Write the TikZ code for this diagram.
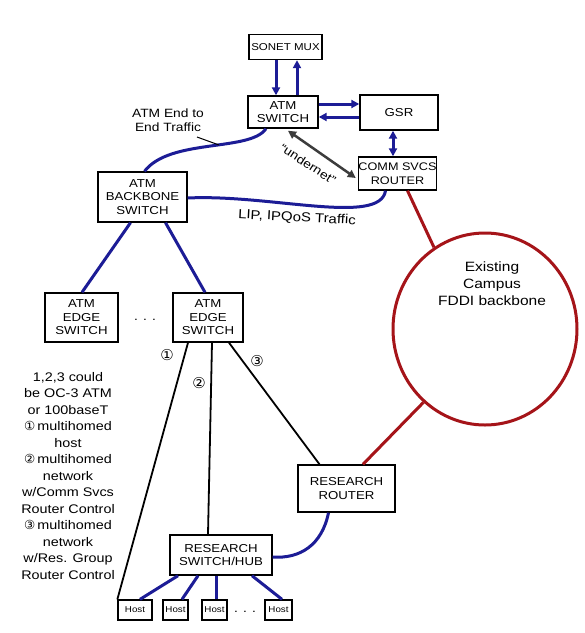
\documentclass[tikz,border=0pt]{standalone}
\usepackage{fontspec}
\setmainfont[FakeStretch=1.15]{Liberation Sans}
\newfontfamily\symf{DejaVu Sans}
\usetikzlibrary{arrows.meta,shapes.geometric}
\definecolor{netblue}{RGB}{28,28,150}
\definecolor{netred}{RGB}{165,20,25}
\definecolor{netgray}{RGB}{60,60,60}
\begin{document}
\begin{tikzpicture}[x=1pt,y=-1pt,
  box/.style={draw,line width=1.4pt,align=center,inner sep=0pt,font=\fontsize{11.5}{13.5}\selectfont},
  hostbox/.style={draw,line width=1.3pt,inner sep=0pt,minimum height=20pt,font=\fontsize{8.5}{9}\selectfont},
  blk/.style={line width=1.8pt},
  bl/.style={netblue,line width=3pt},
  rd/.style={netred,line width=3pt},
  tipend/.style={-{Triangle[length=8pt,width=8pt]}},
  tipboth/.style={{Triangle[length=8pt,width=8pt]}-{Triangle[length=8pt,width=8pt]}},
  lbl/.style={font=\fontsize{12}{13.5}\selectfont,align=center,inner sep=0pt},
  num/.style={font=\symf\fontsize{15}{15}\selectfont,inner sep=0pt}
]
\useasboundingbox (0,0) rectangle (585,633);
\fill[white] (0,0) rectangle (585,633);

% boxes
\node[box,minimum width=73pt,minimum height=25pt,font=\fontsize{10}{12}\selectfont] (sonet) at (285.5,47) {SONET MUX};
\node[box,minimum width=70pt,minimum height=32pt] (atmsw) at (283,112) {ATM\\SWITCH};
\node[box,minimum width=78pt,minimum height=35pt] (gsr) at (399,112.5) {GSR};
\node[box,minimum width=75pt,minimum height=33pt,font=\fontsize{11}{13.5}\selectfont] (comm) at (397.5,173.5) {COMM SVCS\\ROUTER};
\node[box,minimum width=89pt,minimum height=50pt] (backbone) at (142.5,197) {ATM\\BACKBONE\\SWITCH};
\node[box,minimum width=73pt,minimum height=49pt] (edgeA) at (81.5,317.5) {ATM\\EDGE\\SWITCH};
\node[box,minimum width=70pt,minimum height=49pt] (edgeB) at (208,317.5) {ATM\\EDGE\\SWITCH};
\node[lbl] (dotsA) at (145,320) {. . .};
\node[box,minimum width=97pt,minimum height=47pt] (rrouter) at (346.5,488.5) {RESEARCH\\ROUTER};
\node[box,minimum width=102pt,minimum height=40pt] (hub) at (221,555) {RESEARCH\\SWITCH/HUB};
\node[hostbox,minimum width=34pt] (h1) at (135,610) {Host};
\node[hostbox,minimum width=25pt] (h2) at (175.5,610) {Host};
\node[hostbox,minimum width=25pt] (h3) at (214.5,610) {Host};
\node[hostbox,minimum width=27pt] (h4) at (278.5,610) {Host};
\node[lbl] (dotsB) at (245,612) {. . .};

% FDDI ring
\node[draw=netred,line width=3pt,ellipse,minimum width=184pt,minimum height=192pt,inner sep=0pt] (ring) at (485,329) {};
\node[lbl,font=\fontsize{13.5}{17}\selectfont] (ringtxt) at (492,284) {Existing\\Campus\\FDDI backbone};

% SONET <-> ATM switch
\draw[bl,tipend] ([xshift=-9.5pt]sonet.south) -- ([xshift=-9.5pt]sonet.south |- atmsw.north);
\draw[bl,tipend] ([xshift=11.5pt]sonet.south |- atmsw.north) -- ([xshift=11.5pt]sonet.south);
% ATM switch <-> GSR
\draw[bl,tipend] ([yshift=8pt]atmsw.east) -- ([yshift=8pt]atmsw.east -| gsr.west);
\draw[bl,tipend] ([yshift=-4.5pt]gsr.west) -- ([yshift=-4.5pt]gsr.west -| atmsw.east);
% GSR <-> Comm
\draw[bl,tipboth] ([xshift=-6pt]gsr.south) -- ([xshift=-6pt]gsr.south |- comm.north);
% undernet
\draw[netgray,line width=2.5pt,tipboth] ([xshift=5pt,yshift=-2pt]atmsw.south) -- ([xshift=-2pt,yshift=-4.5pt]comm.west);
\node[lbl,rotate=-33,font=\fontsize{12}{13}\selectfont] (under) at (308,164) {``undernet''};

% ATM switch -> backbone
\draw[bl] ([xshift=-17pt]atmsw.south) .. controls (250,152) and (170,138) .. ([xshift=2pt]backbone.north);
\node[lbl] (e2e) at (168,120) {ATM End to\\End Traffic};
\coordinate (leadS) at (197,137);
\coordinate (leadE) at (219,145);
\draw[line width=1pt] (leadS) -- (leadE);

% backbone -> comm (LIP)
\draw[bl] ([yshift=-1pt]backbone.east) .. controls (270,194) and (380,226) .. ([xshift=-12pt]comm.south);
\node[lbl,rotate=-3,font=\fontsize{13}{14}\selectfont] (lip) at (297,218) {LIP, IPQoS Traffic};

% backbone -> edge switches
\draw[bl] ([xshift=-12pt]backbone.south) -- ([xshift=0.5pt]edgeA.north);
\draw[bl] ([xshift=23pt]backbone.south) -- ([xshift=-3pt]edgeB.north);

% comm -> ring ; router -> ring
\draw[rd] ([xshift=10pt]comm.south) -- (ring.122);
\draw[rd] ([xshift=16.5pt]rrouter.north) -- (ring.230);

% multihomed links
\draw[blk] ([xshift=-20pt]edgeB.south) -- (h1.north west);
\draw[blk] ([xshift=4pt]edgeB.south) -- ([xshift=-13pt]hub.north);
\draw[blk] ([xshift=21pt]edgeB.south) -- ([xshift=-27pt]rrouter.north);
\node[num] (n1) at (167,355) {①};
\node[num] (n2) at (199,383) {②};
\node[num] (n3) at (257,361) {③};

% router -> hub
\draw[bl] ([xshift=-18pt]rrouter.south) .. controls (322,545) and (300,559) .. ([yshift=-2pt]hub.east);

% hub -> hosts
\draw[bl] ([xshift=-43pt]hub.south) -- ([xshift=5pt]h1.north);
\draw[bl] ([xshift=-23pt]hub.south) -- ([xshift=6.5pt]h2.north);
\draw[bl] ([xshift=-5pt]hub.south) -- ([xshift=1.5pt]h3.north);
\draw[bl] ([xshift=31pt]hub.south) -- ([xshift=3.5pt]h4.north);

% notes
\node[lbl,font=\fontsize{12.5}{16.5}\selectfont] (notes) at (68,476) {1,2,3 could\\be OC-3 ATM\\or 100baseT\\{\symf ①}\,multihomed\\host\\{\symf ②}\,multihomed\\network\\w/Comm Svcs\\Router Control\\{\symf ③}\,multihomed\\network\\w/Res. Group\\Router Control};
\end{tikzpicture}
\end{document}
